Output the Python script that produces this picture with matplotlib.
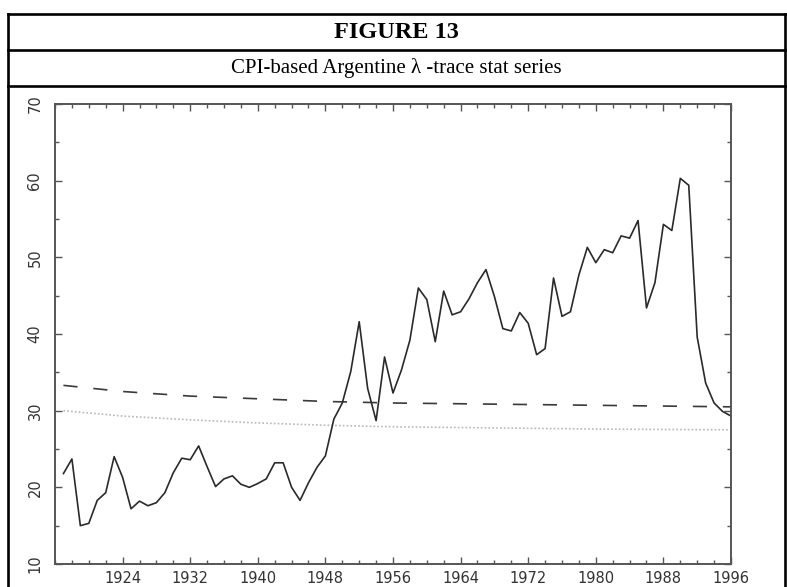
import matplotlib
matplotlib.use("Agg")
import matplotlib.pyplot as plt
from matplotlib.lines import Line2D
from matplotlib.ticker import MultipleLocator

# ---- data ----
years = list(range(1917, 1997))
trace_stat = [21.8, 23.7, 15.0, 15.3, 18.3, 19.3, 24.0, 21.3, 17.2, 18.2,
              17.6, 18.0, 19.3, 21.9, 23.8, 23.6, 25.4, 22.7, 20.1, 21.1,
              21.5, 20.4, 20.0, 20.5, 21.1, 23.2, 23.2, 20.0, 18.3, 20.6,
              22.6, 24.1, 28.9, 31.0, 35.1, 41.6, 32.9, 28.7, 37.0, 32.3,
              35.3, 39.2, 46.0, 44.5, 39.0, 45.6, 42.5, 42.9, 44.6, 46.7,
              48.4, 44.9, 40.7, 40.4, 42.8, 41.4, 37.3, 38.1, 47.3, 42.3,
              42.9, 47.7, 51.3, 49.3, 51.0, 50.6, 52.8, 52.5, 54.8, 43.4,
              46.7, 54.3, 53.5, 60.3, 59.4, 39.6, 33.6, 31.0, 29.9, 29.3]
cv_years = [1917, 1924, 1932, 1940, 1948, 1956, 1964, 1972, 1980, 1988, 1996]
cv_upper = [33.3, 32.5, 31.9, 31.55, 31.2, 31.0, 30.9, 30.8, 30.7, 30.6, 30.5]
cv_lower = [30.0, 29.3, 28.8, 28.4, 28.1, 27.9, 27.8, 27.7, 27.6, 27.55, 27.5]
x_ticks = [1924, 1932, 1940, 1948, 1956, 1964, 1972, 1980, 1988, 1996]
y_ticks = [10, 20, 30, 40, 50, 60, 70]
title = "FIGURE 13"
subtitle = "CPI-based Argentine λ -trace stat series"

W, H = 787, 587
fig = plt.figure(figsize=(W / 100, H / 100), dpi=100)
fig.patch.set_facecolor("white")

# header table lines
def hline(y, x0=7.5, x1=785):
    fig.add_artist(Line2D([x0 / W, x1 / W], [1 - y / H, 1 - y / H],
                          transform=fig.transFigure, color="black", lw=1.9))

def vline(x, y0=14, y1=587):
    fig.add_artist(Line2D([x / W, x / W], [1 - y0 / H, 1 - y1 / H],
                          transform=fig.transFigure, color="black", lw=1.9))

hline(14)
hline(50)
hline(86)
vline(7.5)
vline(785)

cx = (7.5 + 785) / 2 / W
fig.text(cx, 1 - 33 / H, title, ha="center", va="center",
         family="Liberation Serif", fontweight="bold", fontsize=17.5)
fig.text(cx, 1 - 68 / H, subtitle, ha="center", va="center",
         family="Liberation Serif", fontsize=15)

# plot area
left, right, top, bottom = 55, 731, 104, 564
ax = fig.add_axes([left / W, 1 - bottom / H, (right - left) / W, (bottom - top) / H])
ax.set_xlim(1916, 1996)
ax.set_ylim(10, 70)

ax.plot(cv_years, cv_lower, color="#b8b8b8", lw=1.2, linestyle=(0, (1, 1.3)))
ax.plot(cv_years, cv_upper, color="#3a3a3a", lw=1.2, linestyle=(0, (8.5, 9.5)))
ax.plot(years, trace_stat, color="#2a2a2a", lw=1.2)

for s in ax.spines.values():
    s.set_color("#555555")
    s.set_linewidth(1.4)

ax.set_xticks(x_ticks)
ax.xaxis.set_minor_locator(MultipleLocator(2))
ax.set_yticks(y_ticks)
ax.yaxis.set_minor_locator(MultipleLocator(5))
ax.tick_params(which="both", direction="in", top=True, right=True,
               color="#555555", width=1.0)
ax.tick_params(which="major", length=5)
ax.tick_params(which="minor", length=3)
ax.tick_params(axis="x", which="major", pad=5, labelsize=10.5, labelcolor="#333333")
ax.tick_params(axis="y", which="major", pad=9, labelsize=10.5, labelcolor="#333333",
               labelrotation=90)
for lab in ax.get_yticklabels():
    lab.set_va("center")

fig.savefig("out.png", dpi=100)
